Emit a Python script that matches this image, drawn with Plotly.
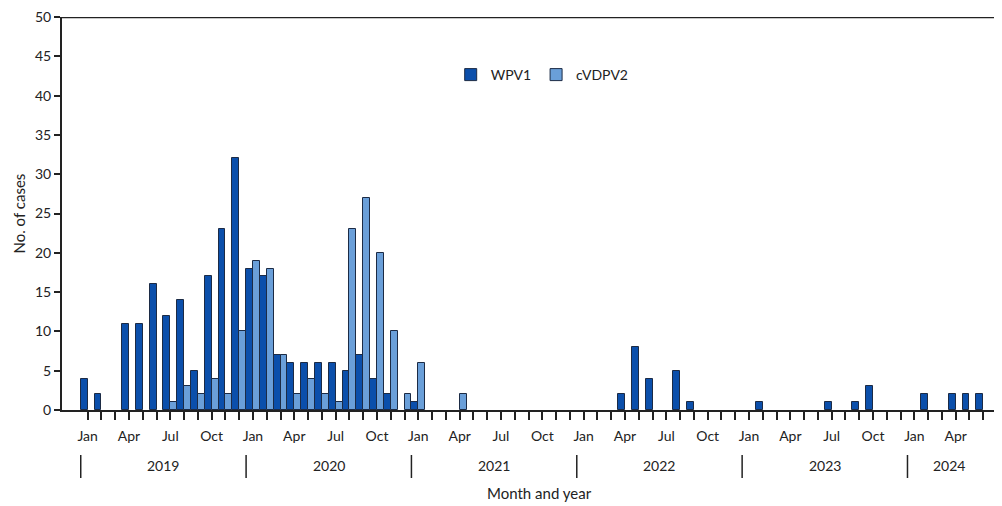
import plotly.graph_objects as go

month_names = ["Jan", "Feb", "Mar", "Apr", "May", "Jun",
               "Jul", "Aug", "Sep", "Oct", "Nov", "Dec"]
years = [2019, 2020, 2021, 2022, 2023, 2024]

# Monthly case counts, Jan 2019 - Jun 2024
wpv1 = [
    4, 2, 0, 11, 11, 16, 12, 14, 5, 17, 23, 32,      # 2019
    18, 17, 7, 6, 6, 6, 6, 5, 7, 4, 2, 0,            # 2020
    1, 0, 0, 0, 0, 0, 0, 0, 0, 0, 0, 0,              # 2021
    0, 0, 0, 2, 8, 4, 0, 5, 1, 0, 0, 0,              # 2022
    0, 1, 0, 0, 0, 0, 1, 0, 1, 3, 0, 0,              # 2023
    0, 2, 0, 2, 2, 2,                                # 2024
]
cvdpv2 = [
    0, 0, 0, 0, 0, 0, 1, 3, 2, 4, 2, 10,             # 2019
    19, 18, 7, 2, 4, 2, 1, 23, 27, 20, 10, 2,        # 2020
    6, 0, 0, 2, 0, 0, 0, 0, 0, 0, 0, 0,              # 2021
    0, 0, 0, 0, 0, 0, 0, 0, 0, 0, 0, 0,              # 2022
    0, 0, 0, 0, 0, 0, 0, 0, 0, 0, 0, 0,              # 2023
    0, 0, 0, 0, 0, 0,                                # 2024
]

n_months = len(wpv1)
x_idx = list(range(n_months))
tick_text = [month_names[i % 12] if i % 3 == 0 else "" for i in x_idx]

FONT = "Lato"
DARK = "#0b4fab"
LIGHT = "#6a9fd9"
EDGE = "#1c2b45"
TXT = "#222"

TOP, BOTTOM = 9, 96
FIG_W, FIG_H = 994, 498
PLOT_H = FIG_H - TOP - BOTTOM  # px height of plotting area


def nz(values):
    # zero months draw no bar (avoids an outline sitting on the axis)
    return [v if v != 0 else None for v in values]


fig = go.Figure()
fig.add_trace(go.Bar(x=x_idx, y=nz(wpv1), name="WPV1",
                     marker=dict(color=DARK, line=dict(color=EDGE, width=1))))
fig.add_trace(go.Bar(x=x_idx, y=nz(cvdpv2), name="cVDPV2",
                     marker=dict(color=LIGHT, line=dict(color=EDGE, width=1))))

shapes = []
annotations = []
for k, yr in enumerate(years):
    start = k * 12
    end = min(start + 12, n_months)
    shapes.append(dict(type="line", xref="x", yref="paper",
                       x0=start - 0.5, x1=start - 0.5, y0=-45 / PLOT_H, y1=-68 / PLOT_H,
                       line=dict(color=TXT, width=1.5)))
    annotations.append(dict(x=(start + end - 1) / 2, y=-55 / PLOT_H, xref="x", yref="paper",
                            xanchor="center", yanchor="middle",
                            text=str(yr), showarrow=False,
                            font=dict(family=FONT, size=14, color=TXT)))
# top frame line
shapes.append(dict(type="line", xref="paper", yref="y", x0=0, x1=1, y0=50, y1=50,
                   line=dict(color=TXT, width=2.5)))
annotations.append(dict(x=0.508, y=-83 / PLOT_H, xref="paper", yref="paper",
                        xanchor="center", yanchor="middle", text="Month and year",
                        showarrow=False, font=dict(family=FONT, size=15, color=TXT)))
annotations.append(dict(x=-44 / 940, y=0.5, xref="paper", yref="paper", text="No. of cases",
                        xanchor="center", yanchor="middle",
                        textangle=-90, showarrow=False,
                        font=dict(family=FONT, size=15, color=TXT)))

# page body has an 8px margin, so the figure is offset by 8px; compensate
fig.update_layout(
    width=FIG_W, height=FIG_H,
    margin=dict(l=54, r=0, t=TOP, b=BOTTOM),
    paper_bgcolor="white", plot_bgcolor="white",
    barmode="group", bargap=0, bargroupgap=0,
    font=dict(family=FONT, size=14, color=TXT),
    legend=dict(orientation="h", x=0.4135, y=1 - 58 / PLOT_H, xanchor="left", yanchor="middle",
                font=dict(family=FONT, size=14, color=TXT), bgcolor="rgba(0,0,0,0)"),
    shapes=shapes, annotations=annotations,
    showlegend=True,
)
fig.update_xaxes(
    range=[-1.86, 66.36], tickmode="array", tickvals=x_idx, ticktext=tick_text,
    ticks="outside", ticklen=8, tickwidth=1.5, tickcolor=TXT, automargin=False,
    ticklabelstandoff=4,
    showline=True, linecolor=TXT, linewidth=2, showgrid=False, zeroline=False,
    tickfont=dict(family=FONT, size=14, color=TXT),
)
fig.update_yaxes(
    range=[0, 50], dtick=5, ticks="outside", ticklen=6, tickwidth=1.5, tickcolor=TXT,
    showline=True, linecolor=TXT, linewidth=2, showgrid=False, zeroline=False,
    automargin=False, ticklabeloverflow="allow",
    tickfont=dict(family=FONT, size=14, color=TXT),
)

fig.write_html("out.html")
